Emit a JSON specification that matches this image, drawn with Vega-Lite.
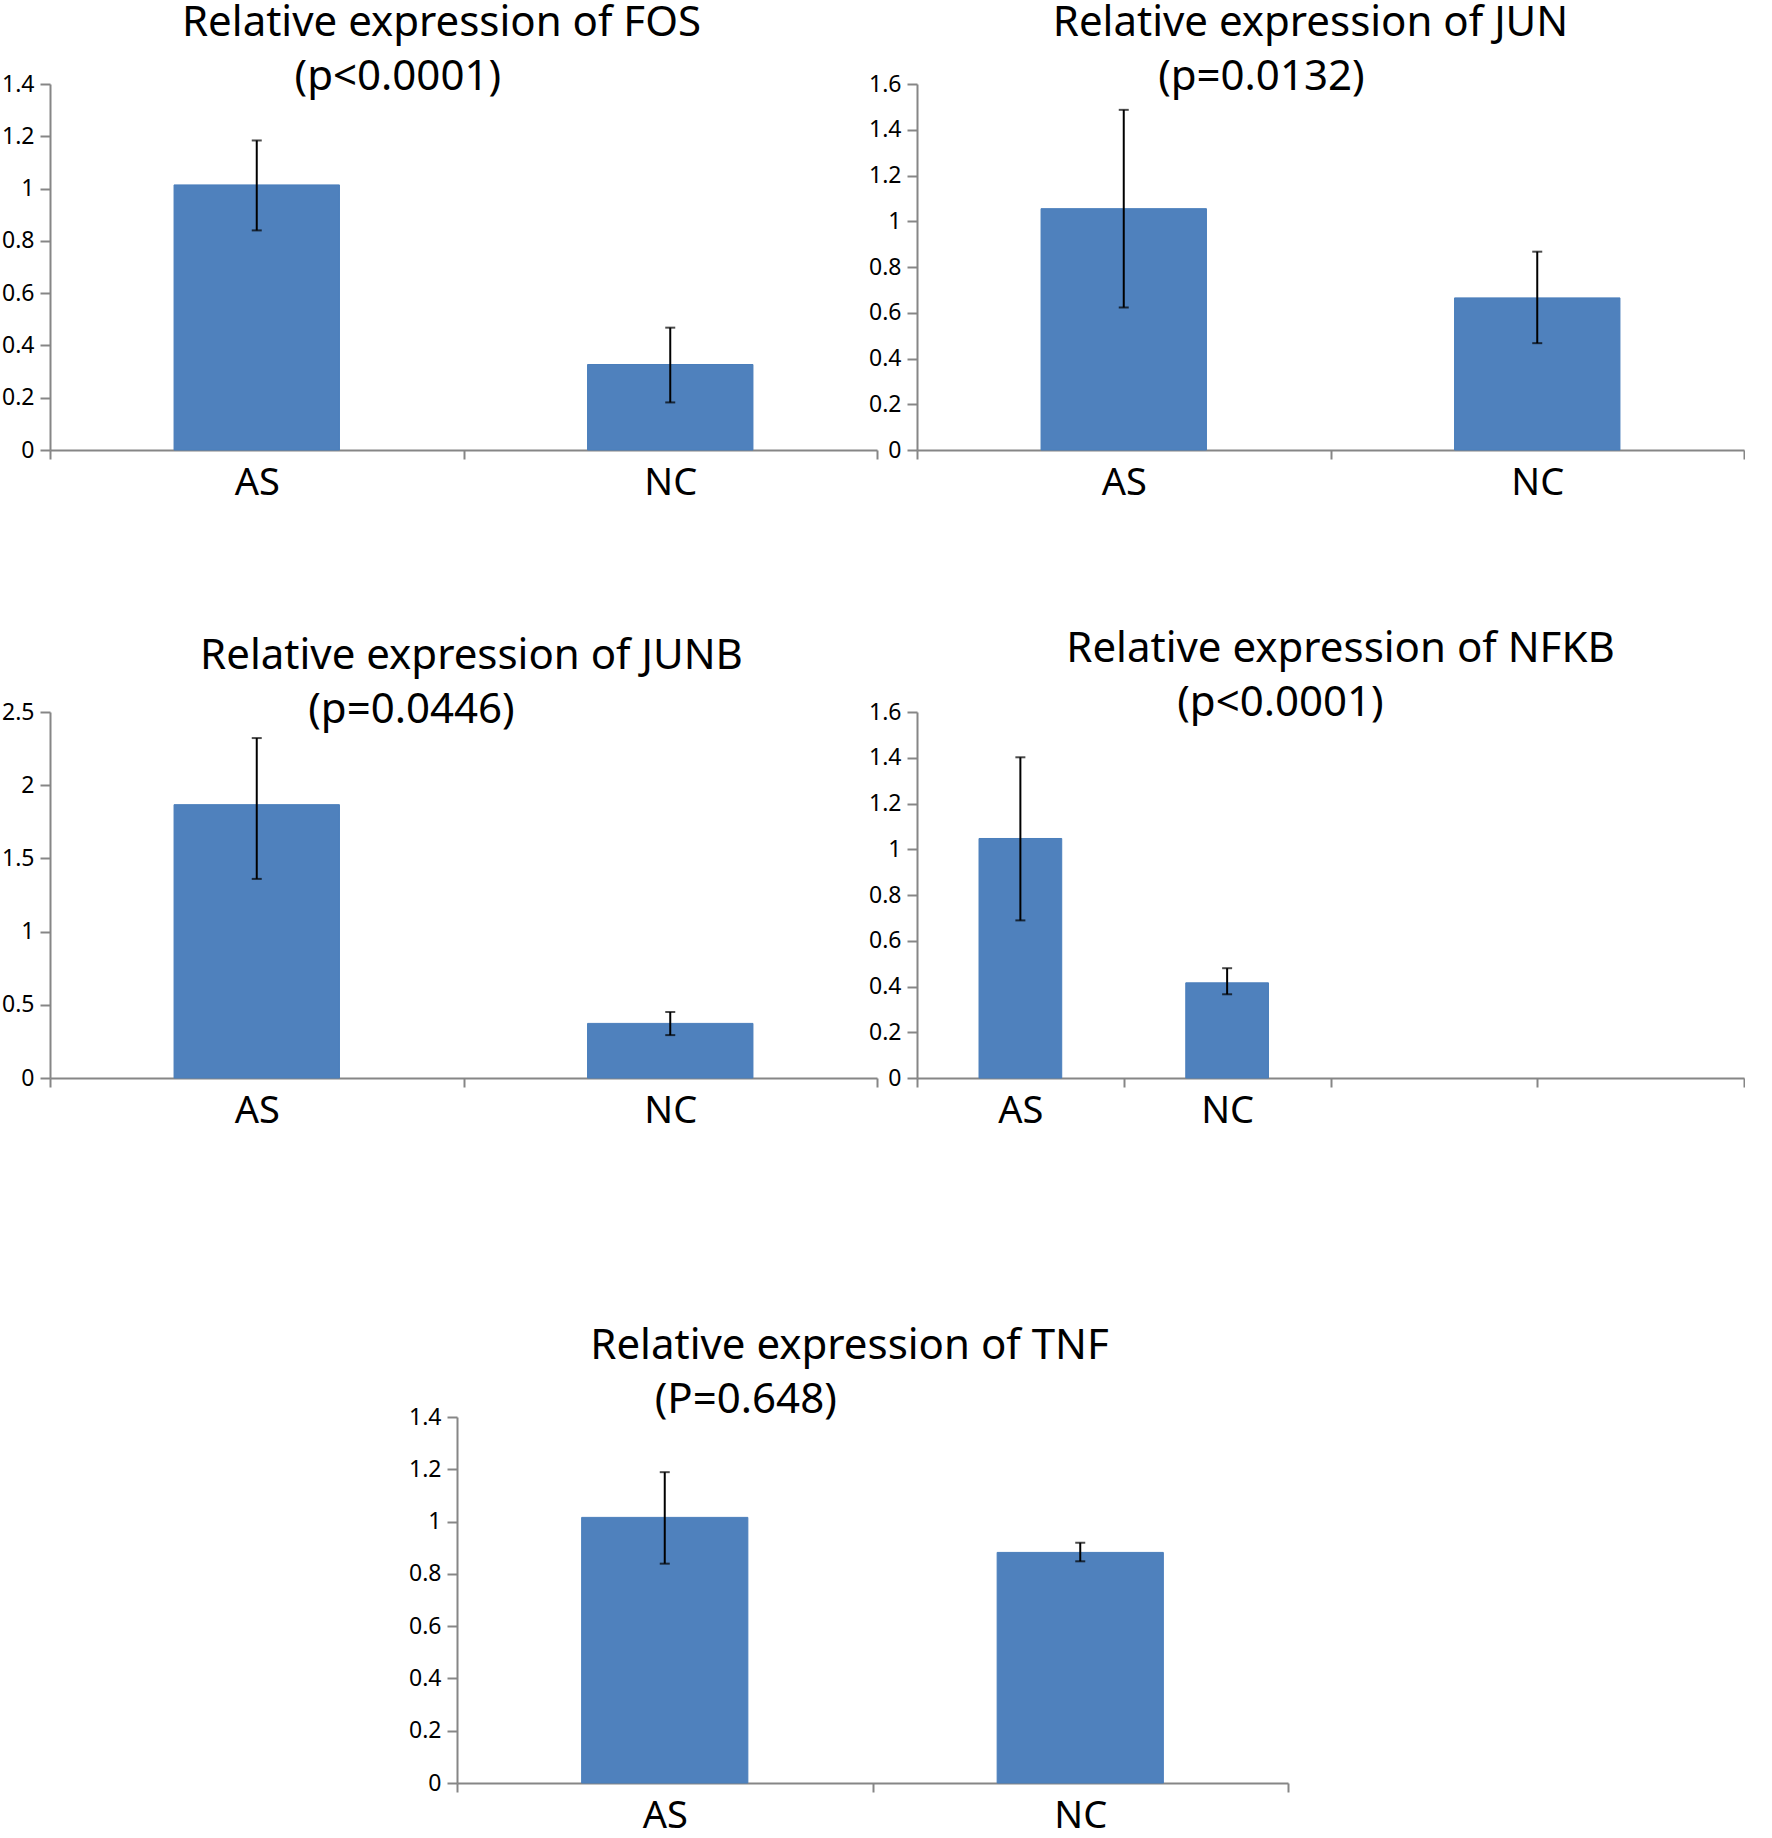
{
  "$schema": "https://vega.github.io/schema/vega-lite/v6.json",
  "padding": {"top": 2, "left": 0, "right": 0, "bottom": 0},
  "background": "white",
  "datasets": {
    "expr": [
      {"gene": "FOS", "group": "AS", "value": 1.014, "lo": 0.84, "hi": 1.184},
      {"gene": "FOS", "group": "NC", "value": 0.327, "lo": 0.182, "hi": 0.468},
      {"gene": "JUN", "group": "AS", "value": 1.055, "lo": 0.623, "hi": 1.487},
      {"gene": "JUN", "group": "NC", "value": 0.665, "lo": 0.467, "hi": 0.867},
      {"gene": "JUNB", "group": "AS", "value": 1.867, "lo": 1.36, "hi": 2.322},
      {"gene": "JUNB", "group": "NC", "value": 0.373, "lo": 0.293, "hi": 0.451},
      {"gene": "NFKB", "group": "AS", "value": 1.047, "lo": 0.689, "hi": 1.402},
      {"gene": "NFKB", "group": "NC", "value": 0.416, "lo": 0.366, "hi": 0.48},
      {"gene": "TNF", "group": "AS", "value": 1.016, "lo": 0.839, "hi": 1.189},
      {"gene": "TNF", "group": "NC", "value": 0.882, "lo": 0.848, "hi": 0.919}
    ]
  },
  "concat": [
    {
      "vconcat": [
        {
          "hconcat": [
            {
              "width": 827, "height": 366,
              "title": {"text": ["Relative expression of FOS", "(p<0.0001)\u00a0\u00a0\u00a0\u00a0\u00a0\u00a0\u00a0\u00a0\u200b"], "dx": -22, "offset": -26},
              "data": {"name": "expr"},
              "transform": [{"filter": "datum.gene == 'FOS'"}],
              "encoding": {"x": {"field": "group", "type": "nominal", "scale": {"domain": ["AS", "NC"], "paddingInner": 0, "paddingOuter": 0}}},
              "layer": [
                {"mark": {"type": "bar", "width": {"band": 0.4}, "color": "#4F81BD", "stroke": "#4A7EBB", "strokeWidth": 1},
                 "encoding": {"y": {"field": "value", "type": "quantitative", "scale": {"domain": [0, 1.4], "nice": false}, "axis": {"values": [0, 0.2, 0.4, 0.6, 0.8, 1, 1.2, 1.4]}}}},
                {"mark": {"type": "rule", "color": "black", "strokeWidth": 2}, "encoding": {"y": {"field": "lo", "type": "quantitative"}, "y2": {"field": "hi"}}},
                {"mark": {"type": "tick", "color": "black", "thickness": 2, "size": 10}, "encoding": {"y": {"field": "lo", "type": "quantitative"}}},
                {"mark": {"type": "tick", "color": "black", "thickness": 2, "size": 10}, "encoding": {"y": {"field": "hi", "type": "quantitative"}}}
              ]
            },
            {
              "width": 827, "height": 366,
              "title": {"text": ["Relative expression of JUN", "(p=0.0132)\u00a0\u00a0\u00a0\u00a0\u00a0\u00a0\u00a0\u00a0\u00a0\u200b"], "dx": -20, "offset": -26},
              "data": {"name": "expr"},
              "transform": [{"filter": "datum.gene == 'JUN'"}],
              "encoding": {"x": {"field": "group", "type": "nominal", "scale": {"domain": ["AS", "NC"], "paddingInner": 0, "paddingOuter": 0}}},
              "layer": [
                {"mark": {"type": "bar", "width": {"band": 0.4}, "color": "#4F81BD", "stroke": "#4A7EBB", "strokeWidth": 1},
                 "encoding": {"y": {"field": "value", "type": "quantitative", "scale": {"domain": [0, 1.6], "nice": false}, "axis": {"values": [0, 0.2, 0.4, 0.6, 0.8, 1, 1.2, 1.4, 1.6]}}}},
                {"mark": {"type": "rule", "color": "black", "strokeWidth": 2}, "encoding": {"y": {"field": "lo", "type": "quantitative"}, "y2": {"field": "hi"}}},
                {"mark": {"type": "tick", "color": "black", "thickness": 2, "size": 10}, "encoding": {"y": {"field": "lo", "type": "quantitative"}}},
                {"mark": {"type": "tick", "color": "black", "thickness": 2, "size": 10}, "encoding": {"y": {"field": "hi", "type": "quantitative"}}}
              ]
            }
          ],
          "spacing": -11
        },
        {
          "hconcat": [
            {
              "width": 827, "height": 366,
              "title": {"text": ["Relative expression of JUNB", "(p=0.0446)\u00a0\u00a0\u00a0\u00a0\u00a0\u00a0\u00a0\u00a0\u00a0\u00a0\u00a0\u200b"], "dx": 8, "offset": -31},
              "data": {"name": "expr"},
              "transform": [{"filter": "datum.gene == 'JUNB'"}],
              "encoding": {"x": {"field": "group", "type": "nominal", "scale": {"domain": ["AS", "NC"], "paddingInner": 0, "paddingOuter": 0}}},
              "layer": [
                {"mark": {"type": "bar", "width": {"band": 0.4}, "color": "#4F81BD", "stroke": "#4A7EBB", "strokeWidth": 1},
                 "encoding": {"y": {"field": "value", "type": "quantitative", "scale": {"domain": [0, 2.5], "nice": false}, "axis": {"values": [0, 0.5, 1, 1.5, 2, 2.5]}}}},
                {"mark": {"type": "rule", "color": "black", "strokeWidth": 2}, "encoding": {"y": {"field": "lo", "type": "quantitative"}, "y2": {"field": "hi"}}},
                {"mark": {"type": "tick", "color": "black", "thickness": 2, "size": 10}, "encoding": {"y": {"field": "lo", "type": "quantitative"}}},
                {"mark": {"type": "tick", "color": "black", "thickness": 2, "size": 10}, "encoding": {"y": {"field": "hi", "type": "quantitative"}}}
              ]
            },
            {
              "width": 827, "height": 366,
              "title": {"text": ["Relative expression of NFKB", "(p<0.0001)\u00a0\u00a0\u00a0\u00a0\u00a0\u00a0\u00a0\u00a0\u00a0\u00a0\u00a0\u200b"], "dx": 10},
              "data": {"name": "expr"},
              "transform": [{"filter": "datum.gene == 'NFKB'"}],
              "encoding": {"x": {"field": "group", "type": "nominal", "scale": {"domain": ["AS", "NC", " ", "  "], "paddingInner": 0, "paddingOuter": 0}}},
              "layer": [
                {"mark": {"type": "bar", "width": {"band": 0.4}, "color": "#4F81BD", "stroke": "#4A7EBB", "strokeWidth": 1},
                 "encoding": {"y": {"field": "value", "type": "quantitative", "scale": {"domain": [0, 1.6], "nice": false}, "axis": {"values": [0, 0.2, 0.4, 0.6, 0.8, 1, 1.2, 1.4, 1.6]}}}},
                {"mark": {"type": "rule", "color": "black", "strokeWidth": 2}, "encoding": {"y": {"field": "lo", "type": "quantitative"}, "y2": {"field": "hi"}}},
                {"mark": {"type": "tick", "color": "black", "thickness": 2, "size": 10}, "encoding": {"y": {"field": "lo", "type": "quantitative"}}},
                {"mark": {"type": "tick", "color": "black", "thickness": 2, "size": 10}, "encoding": {"y": {"field": "hi", "type": "quantitative"}}}
              ]
            }
          ],
          "spacing": -11
        }
      ],
      "spacing": 126
    },
    {
      "hconcat": [
        {
          "width": 357, "height": 1,
          "data": {"values": []},
          "mark": {"type": "point", "opacity": 0}
        },
        {
          "width": 831, "height": 366,
          "title": {"text": ["Relative expression of TNF", "(P=0.648)\u00a0\u00a0\u00a0\u00a0\u00a0\u00a0\u00a0\u00a0\u00a0\u00a0\u00a0\u00a0\u00a0\u00a0\u00a0\u00a0\u00a0\u00a0\u00a0\u200b"], "dx": -23, "offset": -16},
          "data": {"name": "expr"},
          "transform": [{"filter": "datum.gene == 'TNF'"}],
          "encoding": {"x": {"field": "group", "type": "nominal", "scale": {"domain": ["AS", "NC"], "paddingInner": 0, "paddingOuter": 0}}},
          "layer": [
            {"mark": {"type": "bar", "width": {"band": 0.4}, "color": "#4F81BD", "stroke": "#4A7EBB", "strokeWidth": 1},
             "encoding": {"y": {"field": "value", "type": "quantitative", "scale": {"domain": [0, 1.4], "nice": false}, "axis": {"values": [0, 0.2, 0.4, 0.6, 0.8, 1, 1.2, 1.4]}}}},
            {"mark": {"type": "rule", "color": "black", "strokeWidth": 2}, "encoding": {"y": {"field": "lo", "type": "quantitative"}, "y2": {"field": "hi"}}},
            {"mark": {"type": "tick", "color": "black", "thickness": 2, "size": 10}, "encoding": {"y": {"field": "lo", "type": "quantitative"}}},
            {"mark": {"type": "tick", "color": "black", "thickness": 2, "size": 10}, "encoding": {"y": {"field": "hi", "type": "quantitative"}}}
          ]
        }
      ],
      "spacing": 0
    }
  ],
  "columns": 1,
  "align": "none",
  "spacing": 195,
  "config": {
    "view": {"stroke": null},
    "font": "Noto Sans",
    "title": {"font": "Noto Sans", "fontSize": 42, "fontWeight": "normal", "lineHeight": 54, "color": "black", "anchor": "middle", "frame": "group", "offset": -24},
    "axis": {"title": null, "grid": false, "domainColor": "#868686", "domainWidth": 2, "tickColor": "#868686", "tickWidth": 2, "labelColor": "black", "labelFont": "Noto Sans"},
    "axisY": {"format": "~g", "labelFontSize": 23, "tickSize": 10, "labelPadding": 6, "minExtent": 50, "maxExtent": 50},
    "axisX": {"tickBand": "extent", "tickSize": 9, "labelFontSize": 38, "labelPadding": 5, "labelAngle": 0}
  }
}
